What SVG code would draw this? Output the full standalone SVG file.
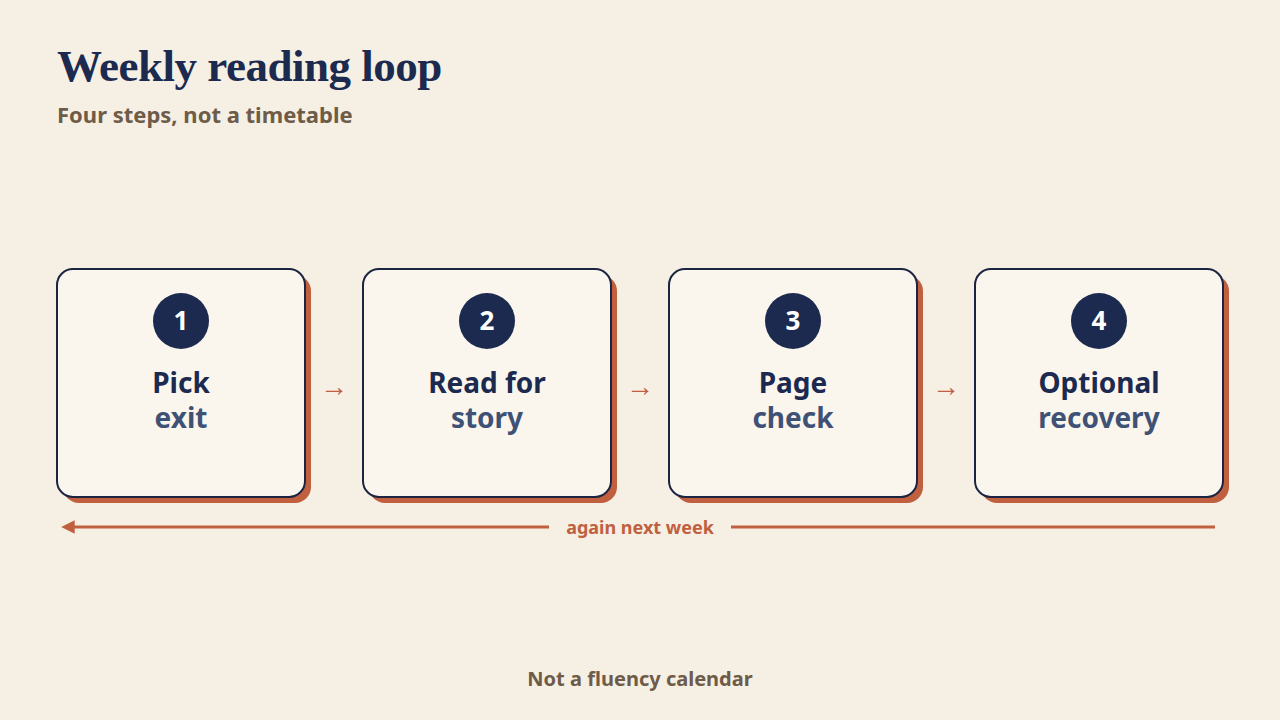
<svg xmlns="http://www.w3.org/2000/svg" width="1280" height="720" viewBox="0 0 1280 720">
<defs>
<style>
.title{font-family:"Liberation Serif","Times New Roman",serif;font-weight:bold;font-size:45px;fill:#1b2a4e;letter-spacing:-0.5px}
.sub{font-family:"Noto Sans","Open Sans",sans-serif;font-weight:bold;font-size:22px;fill:#6e5b48}
.foot{font-family:"Noto Sans","Open Sans",sans-serif;font-weight:bold;font-size:20px;fill:#6e5b48;text-anchor:middle}
.card{fill:#faf6ee;stroke:#1b2440;stroke-width:2}
.shadow{fill:#c0603f}
.badge{fill:#1b2a4e}
.num{font-family:"Noto Sans","Open Sans",sans-serif;font-weight:bold;font-size:26px;fill:#ffffff;text-anchor:middle}
.l1{font-family:"Noto Sans","Open Sans",sans-serif;font-weight:bold;font-size:28px;fill:#1b2a4e;text-anchor:middle}
.l2{font-family:"Noto Sans","Open Sans",sans-serif;font-weight:bold;font-size:28px;fill:#3f5275;text-anchor:middle}
.step{font-family:"Liberation Sans",Arial,sans-serif;font-size:28px;fill:#c0603f;text-anchor:middle}
.loop{stroke:#c0603f;stroke-width:3;fill:none}
.looplabel{font-family:"Noto Sans","Open Sans",sans-serif;font-weight:bold;font-size:18px;fill:#c0603f;text-anchor:middle}
</style>
<marker id="ah" viewBox="0 0 10 10" refX="2" refY="5" markerWidth="4.5" markerHeight="4.5" orient="auto-start-reverse" markerUnits="strokeWidth">
<path d="M0,0 L10,5 L0,10 z" fill="#c0603f"/>
</marker>
</defs>
<rect width="1280" height="720" fill="#f5efe4"/>
<g id="header">
<text class="title" x="57" y="81">Weekly reading loop</text>
<text class="sub" x="57" y="123">Four steps, not a timetable</text>
</g>
<g id="node1">
<rect class="shadow" x="63" y="275" width="248" height="228" rx="16"/>
<rect class="card" x="57" y="269" width="248" height="228" rx="16"/>
<circle class="badge" cx="181" cy="321" r="28"/>
<text class="num" x="181" y="330">1</text>
<text class="l1" x="181" y="393">Pick</text>
<text class="l2" x="181" y="428">exit</text>
</g>
<g id="node2">
<rect class="shadow" x="369" y="275" width="248" height="228" rx="16"/>
<rect class="card" x="363" y="269" width="248" height="228" rx="16"/>
<circle class="badge" cx="487" cy="321" r="28"/>
<text class="num" x="487" y="330">2</text>
<text class="l1" x="487" y="393">Read for</text>
<text class="l2" x="487" y="428">story</text>
</g>
<g id="node3">
<rect class="shadow" x="675" y="275" width="248" height="228" rx="16"/>
<rect class="card" x="669" y="269" width="248" height="228" rx="16"/>
<circle class="badge" cx="793" cy="321" r="28"/>
<text class="num" x="793" y="330">3</text>
<text class="l1" x="793" y="393">Page</text>
<text class="l2" x="793" y="428">check</text>
</g>
<g id="node4">
<rect class="shadow" x="981" y="275" width="248" height="228" rx="16"/>
<rect class="card" x="975" y="269" width="248" height="228" rx="16"/>
<circle class="badge" cx="1099" cy="321" r="28"/>
<text class="num" x="1099" y="330">4</text>
<text class="l1" x="1099" y="393">Optional</text>
<text class="l2" x="1099" y="428">recovery</text>
</g>
<g id="connectors">
<text class="step" x="334" y="396">→</text>
<text class="step" x="640" y="396">→</text>
<text class="step" x="946" y="396">→</text>
<line class="loop" x1="549" y1="527" x2="72" y2="527" marker-end="url(#ah)"/>
<line class="loop" x1="731" y1="527" x2="1215" y2="527"/>
<text class="looplabel" x="640" y="534">again next week</text>
</g>
<g id="footer">
<text class="foot" x="640" y="686">Not a fluency calendar</text>
</g>
</svg>
